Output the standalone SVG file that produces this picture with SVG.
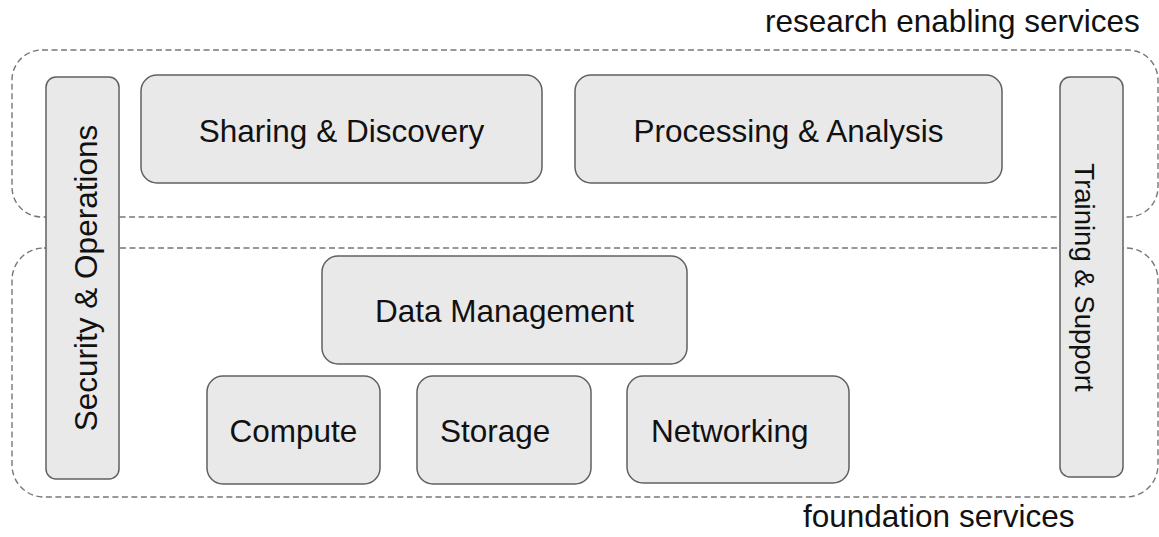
<svg xmlns="http://www.w3.org/2000/svg" width="1159" height="537" viewBox="0 0 1159 537">
<style>
.grp{fill:none;stroke:#777;stroke-width:1.4;stroke-dasharray:6 3.5}
.box{fill:#e9e9e9;stroke:#606060;stroke-width:1.5}
text{font-family:"Liberation Sans",Arial,sans-serif;font-size:31.5px;fill:#111}
.c{text-anchor:middle}
</style>
<rect width="1159" height="537" fill="#fff"/>
<g id="research-enabling-services">
<rect class="grp" x="12" y="50" width="1146" height="167" rx="30"/>
<text x="765" y="32">research enabling services</text>
</g>
<g id="foundation-services">
<rect class="grp" x="12" y="248" width="1146" height="249" rx="32"/>
<text x="803" y="527">foundation services</text>
</g>
<g id="connectors"></g>
<g id="security-operations">
<rect class="box" x="46" y="77" width="73" height="402" rx="10"/>
<text class="c" transform="translate(97,278) rotate(-90)">Security &amp; Operations</text>
</g>
<g id="training-support">
<rect class="box" x="1060" y="77" width="63" height="400" rx="10"/>
<text class="c" style="font-size:27.5px" transform="translate(1075,277.5) rotate(90)">Training &amp; Support</text>
</g>
<g id="sharing-discovery">
<rect class="box" x="141" y="75" width="401" height="108" rx="16"/>
<text class="c" x="341.5" y="142">Sharing &amp; Discovery</text>
</g>
<g id="processing-analysis">
<rect class="box" x="575" y="75" width="427" height="108" rx="16"/>
<text class="c" x="788.5" y="142">Processing &amp; Analysis</text>
</g>
<g id="data-management">
<rect class="box" x="322" y="256" width="365" height="108" rx="16"/>
<text class="c" x="504.5" y="322">Data Management</text>
</g>
<g id="compute">
<rect class="box" x="207" y="376" width="173" height="108" rx="16"/>
<text class="c" x="293.5" y="442">Compute</text>
</g>
<g id="storage">
<rect class="box" x="417" y="376" width="174" height="108" rx="16"/>
<text x="440" y="442">Storage</text>
</g>
<g id="networking">
<rect class="box" x="627" y="376" width="222" height="107" rx="16"/>
<text x="651" y="442">Networking</text>
</g>
</svg>
